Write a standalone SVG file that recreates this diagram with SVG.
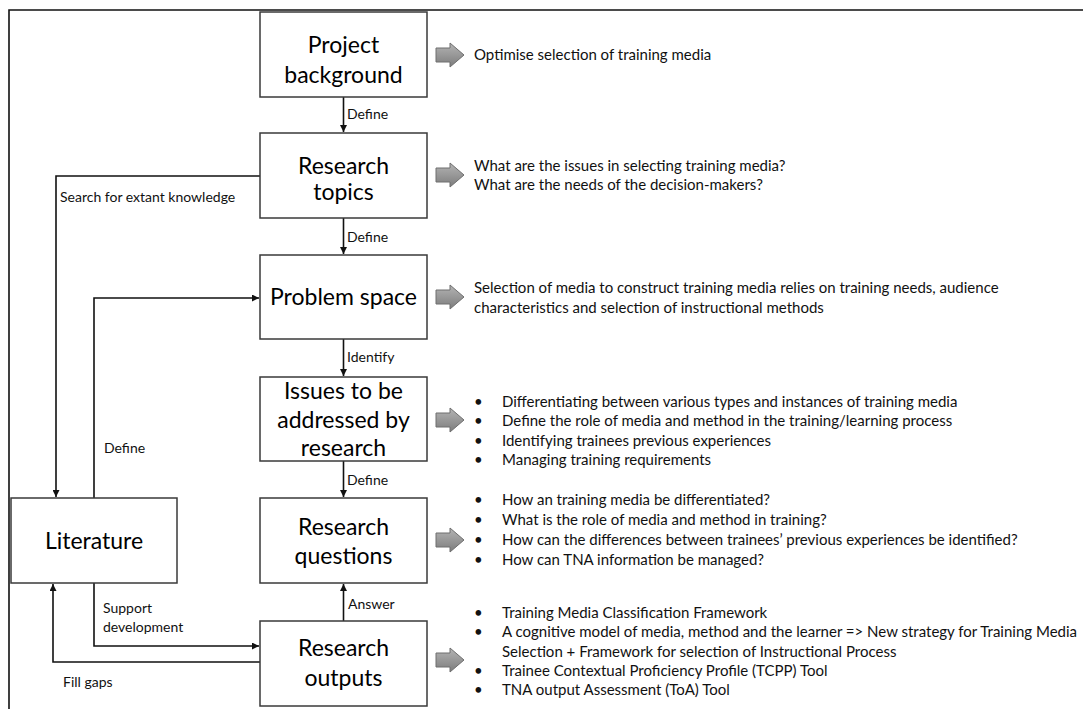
<svg xmlns="http://www.w3.org/2000/svg" width="1083" height="709" viewBox="0 0 1083 709">
  <defs>
    <style>
      .box { fill: #ffffff; stroke: #3a3a3a; stroke-width: 1.5; }
      .title { font-family: Lato, "Liberation Sans", sans-serif; font-size: 23px; fill: #000; text-anchor: middle; }
      .note { font-family: Lato, "Liberation Sans", sans-serif; font-size: 15px; fill: #111; }
      .lbl { font-family: Lato, "Liberation Sans", sans-serif; font-size: 14px; fill: #111; }
      .wire { fill: none; stroke: #111; stroke-width: 1.6; }
      .frame { fill: none; stroke: #111; stroke-width: 1.6; }
      .block { fill: url(#grey); stroke: #6e6e6e; stroke-width: 1; }
    </style>
    <linearGradient id="grey" x1="0" y1="0" x2="0" y2="1">
      <stop offset="0" stop-color="#b4b4b4"/>
      <stop offset="1" stop-color="#7c7c7c"/>
    </linearGradient>
    <marker id="tip" viewBox="0 0 10 10" refX="10" refY="5" markerWidth="7" markerHeight="7" markerUnits="userSpaceOnUse" orient="auto">
      <path d="M0,0 L10,5 L0,10 z" fill="#111"/>
    </marker>
    <!-- grey block arrow, origin at left-middle -->
    <path id="blk" d="M0,-7 H14 V-12 L28,0 L14,12 V7 H0 z"/>
  </defs>

  <!-- outer frame (open at right and bottom) -->
  <path class="frame" d="M9,709 V10 H1083"/>

  <!-- connectors -->
  <g id="connectors">
    <path class="wire" d="M343.5,97 V132" marker-end="url(#tip)"/>
    <text class="lbl" x="347" y="119">Define</text>
    <path class="wire" d="M343.5,218 V254" marker-end="url(#tip)"/>
    <text class="lbl" x="347" y="242">Define</text>
    <path class="wire" d="M343.5,339 V376" marker-end="url(#tip)"/>
    <text class="lbl" x="347" y="362">Identify</text>
    <path class="wire" d="M343.5,461 V497" marker-end="url(#tip)"/>
    <text class="lbl" x="347" y="485">Define</text>
    <path class="wire" d="M343.5,621 V584" marker-end="url(#tip)"/>
    <text class="lbl" x="348" y="609">Answer</text>

    <path class="wire" d="M260,176 H56 V497" marker-end="url(#tip)"/>
    <text class="lbl" x="60" y="202">Search for extant knowledge</text>

    <path class="wire" d="M94,498 V298 H259" marker-end="url(#tip)"/>
    <text class="lbl" x="104" y="453">Define</text>

    <path class="wire" d="M94,583 V646 H259" marker-end="url(#tip)"/>
    <text class="lbl" x="103" y="613">Support</text>
    <text class="lbl" x="103" y="632">development</text>

    <path class="wire" d="M260,662 H53 V584" marker-end="url(#tip)"/>
    <text class="lbl" x="63" y="687">Fill gaps</text>
  </g>

  <!-- nodes -->
  <g id="project-background">
    <rect class="box" x="260" y="12" width="167" height="85"/>
    <text class="title" x="343.5" y="53">Project</text>
    <text class="title" x="343.5" y="83">background</text>
    <use href="#blk" class="block" x="436" y="55"/>
    <text class="note" x="474" y="60">Optimise selection of training media</text>
  </g>

  <g id="research-topics">
    <rect class="box" x="260" y="133" width="167" height="85"/>
    <text class="title" x="343.5" y="174">Research</text>
    <text class="title" x="343.5" y="200">topics</text>
    <use href="#blk" class="block" x="436" y="175"/>
    <text class="note" x="474" y="171">What are the issues in selecting training media?</text>
    <text class="note" x="474" y="190">What are the needs of the decision-makers?</text>
  </g>

  <g id="problem-space">
    <rect class="box" x="260" y="255" width="167" height="84"/>
    <text class="title" x="343.5" y="305">Problem space</text>
    <use href="#blk" class="block" x="436" y="297"/>
    <text class="note" x="474" y="293">Selection of media to construct training media relies on training needs, audience</text>
    <text class="note" x="474" y="313">characteristics and selection of instructional methods</text>
  </g>

  <g id="issues">
    <rect class="box" x="260" y="377" width="167" height="84"/>
    <text class="title" x="343.5" y="399">Issues to be</text>
    <text class="title" x="343.5" y="428">addressed by</text>
    <text class="title" x="343.5" y="456">research</text>
    <use href="#blk" class="block" x="436" y="420"/>
    <text class="note" x="474" y="407">•</text>
    <text class="note" x="502" y="407">Differentiating between various types and instances of training media</text>
    <text class="note" x="474" y="426">•</text>
    <text class="note" x="502" y="426">Define the role of media and method in the training/learning process</text>
    <text class="note" x="474" y="446">•</text>
    <text class="note" x="502" y="446">Identifying trainees previous experiences</text>
    <text class="note" x="474" y="465">•</text>
    <text class="note" x="502" y="465">Managing training requirements</text>
  </g>

  <g id="research-questions">
    <rect class="box" x="260" y="498" width="167" height="85"/>
    <text class="title" x="343.5" y="535">Research</text>
    <text class="title" x="343.5" y="564">questions</text>
    <use href="#blk" class="block" x="436" y="540"/>
    <text class="note" x="474" y="505">•</text>
    <text class="note" x="502" y="505">How an training media be differentiated?</text>
    <text class="note" x="474" y="525">•</text>
    <text class="note" x="502" y="525">What is the role of media and method in training?</text>
    <text class="note" x="474" y="545">•</text>
    <text class="note" x="502" y="545">How can the differences between trainees’ previous experiences be identified?</text>
    <text class="note" x="474" y="565">•</text>
    <text class="note" x="502" y="565">How can TNA information be managed?</text>
  </g>

  <g id="research-outputs">
    <rect class="box" x="260" y="621" width="167" height="85"/>
    <text class="title" x="343.5" y="656">Research</text>
    <text class="title" x="343.5" y="686">outputs</text>
    <use href="#blk" class="block" x="436" y="660"/>
    <text class="note" x="474" y="618">•</text>
    <text class="note" x="502" y="618">Training Media Classification Framework</text>
    <text class="note" x="474" y="637">•</text>
    <text class="note" x="502" y="637">A cognitive model of media, method and the learner =&gt; New strategy for Training Media</text>
    <text class="note" x="502" y="657">Selection + Framework for selection of Instructional Process</text>
    <text class="note" x="474" y="676">•</text>
    <text class="note" x="502" y="676">Trainee Contextual Proficiency Profile (TCPP) Tool</text>
    <text class="note" x="474" y="695">•</text>
    <text class="note" x="502" y="695">TNA output Assessment (ToA) Tool</text>
  </g>

  <g id="literature">
    <rect class="box" x="11" y="498" width="166" height="85"/>
    <text class="title" x="94" y="549">Literature</text>
  </g>
</svg>
